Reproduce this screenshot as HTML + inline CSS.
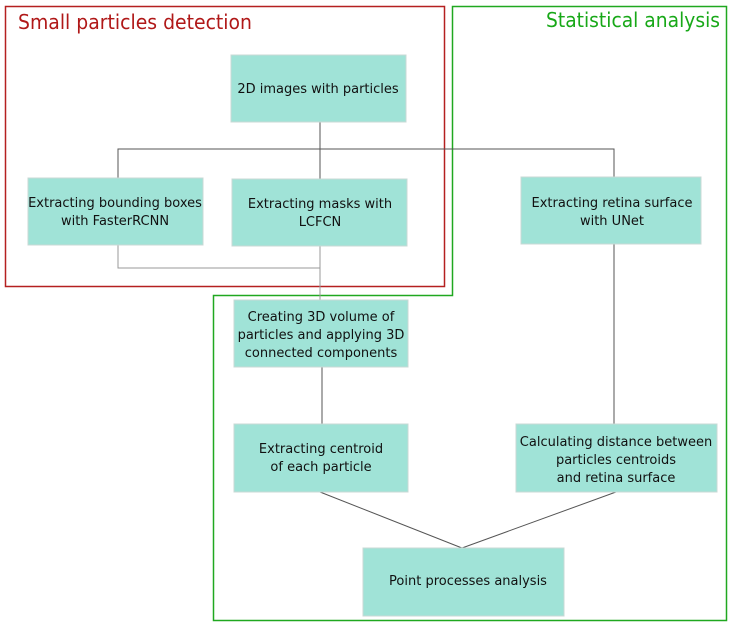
<!DOCTYPE html>
<html><head><style>
html,body{margin:0;padding:0;background:#fff;}
svg{display:block;}
text{font-family:"DejaVu Sans","Liberation Sans",sans-serif;}
.n{fill:#a0e3d7;stroke:#c8d8d4;stroke-width:1;}
.t{font-size:13px;fill:#111;text-anchor:middle;}
.l{stroke:#555;stroke-width:1;fill:none;}
</style></head><body>
<svg width="731" height="630" viewBox="0 0 731 630">
<rect x="5.5" y="6.5" width="439" height="280" fill="none" stroke="#b52020" stroke-width="1.5"/>
<path d="M452.5 295.5 V6.5 H726.5 V620.5 H213.5 V295.5 Z" fill="none" stroke="#20a820" stroke-width="1.5"/>
<text x="18" y="29" font-size="20" fill="#b01818" textLength="234" lengthAdjust="spacingAndGlyphs">Small particles detection</text>
<text x="546" y="27" font-size="20" fill="#18a818" textLength="174" lengthAdjust="spacingAndGlyphs">Statistical analysis</text>

<path class="l" d="M320 122 V149 M118 178 V149 H614 V177 M320 149 V179"/>
<path class="l" style="stroke:#999" d="M118 245 V268 H320 M320 246 V300"/>
<path class="l" d="M322 367 V424 M614 244 V424 M320 492 L462 548 M616 492 L462 548"/>

<rect class="n" x="231" y="55" width="175" height="67"/>
<text class="t" x="318" y="93">2D images with particles</text>
<rect class="n" x="28" y="178" width="175" height="67"/>
<text class="t" x="115" y="207">Extracting bounding boxes</text>
<text class="t" x="115" y="225">with FasterRCNN</text>
<rect class="n" x="232" y="179" width="175" height="67"/>
<text class="t" x="320" y="208">Extracting masks with</text>
<text class="t" x="320" y="226">LCFCN</text>
<rect class="n" x="521" y="177" width="180" height="67"/>
<text class="t" x="612" y="207">Extracting retina surface</text>
<text class="t" x="612" y="225">with UNet</text>
<rect class="n" x="234" y="300" width="174" height="67"/>
<text class="t" x="321" y="321">Creating 3D volume of</text>
<text class="t" x="321" y="339">particles and applying 3D</text>
<text class="t" x="321" y="357">connected components</text>
<rect class="n" x="234" y="424" width="174" height="68"/>
<text class="t" x="321" y="453">Extracting centroid</text>
<text class="t" x="321" y="471">of each particle</text>
<rect class="n" x="516" y="424" width="201" height="68"/>
<text class="t" x="616" y="446">Calculating distance between</text>
<text class="t" x="616" y="464">particles centroids</text>
<text class="t" x="616" y="482">and retina surface</text>
<rect class="n" x="363" y="548" width="201" height="68"/>
<text class="t" x="468" y="585">Point processes analysis</text>
</svg>
</body></html>
